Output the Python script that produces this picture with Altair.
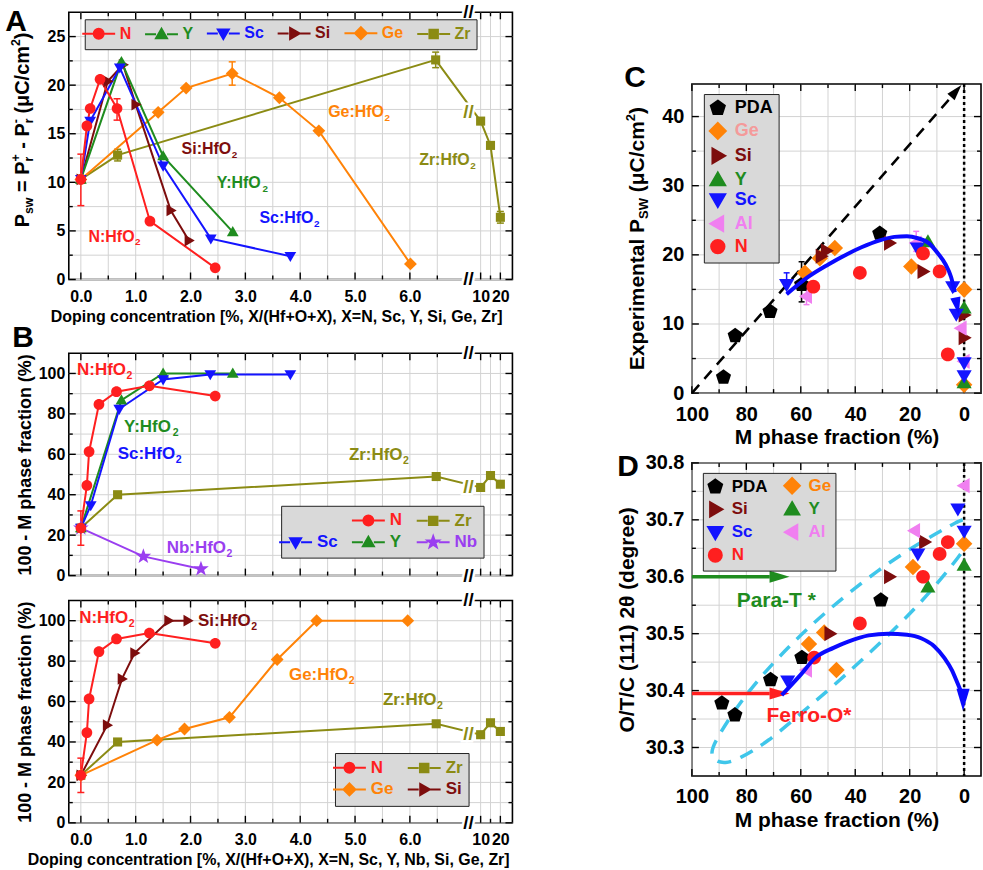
import altair as alt
import pandas as pd

FONT = "Liberation Sans"

# ---------------------------------------------------------------- colours
COL = {
    "N": "#ff1f1f", "Y": "#1f8c1f", "Sc": "#1414ff", "Si": "#7d0d0d",
    "Ge": "#ff8308", "Zr": "#8b8b14", "Nb": "#9a3ef0", "PDA": "#000000",
    "Al": "#f07ff0",
}
LABEL_COL_C = dict(COL, Ge="#f49a9a")
FIT_BLUE = "#0a0aff"
BAND_CYAN = "#3fc6ea"
GRID_GREY = "#d3d3d3"

# marker outlines in a [-1, 1] box
PATHS = {
    "circle": "M1,0A1,1,0,1,1,-1,0A1,1,0,1,1,1,0Z",
    "up": "M0,-1.1L1.1,0.8L-1.1,0.8Z",
    "down": "M0,1.1L1.1,-0.8L-1.1,-0.8Z",
    "right": "M1.1,0L-0.8,-1.1L-0.8,1.1Z",
    "left": "M-1.1,0L0.8,-1.1L0.8,1.1Z",
    "diamond": "M0,-1.2L1.2,0L0,1.2L-1.2,0Z",
    "square": "M-0.85,-0.85L0.85,-0.85L0.85,0.85L-0.85,0.85Z",
    "star": ("M0,-1.2L0.282,-0.388L1.141,-0.371L0.456,0.148L0.706,0.971L0,0.48"
             "L-0.706,0.971L-0.456,0.148L-1.141,-0.371L-0.282,-0.388Z"),
    "pentagon": "M0,-1.1L1.046,-0.34L0.647,0.89L-0.647,0.89L-1.046,-0.34Z",
}
SHAPE = {"N": "circle", "Y": "up", "Sc": "down", "Si": "right", "Ge": "diamond",
         "Zr": "square", "Nb": "star", "PDA": "pentagon", "Al": "left"}
STUBS = "M-3.3,0L-1.1,0M1.1,0L3.3,0"
NARROW_DOWN = "M-0.6,-1L0.6,-1L0,1Z"
NARROW_UP = "M-0.6,1L0.6,1L0,-1Z"
ARROW_RIGHT = "M-1,-0.6L1,0L-1,0.6Z"

# ---------------------------------------------------------------- A: P_sw vs doping
A_N_X = [0, 0.11, 0.17, 0.35, 0.66, 1.26, 2.45]
A_N_Y = [10.3, 15.8, 17.6, 20.6, 17.6, 6.0, 1.2]
A_Y_X = [0, 0.74, 1.50, 2.77]
A_Y_Y = [10.3, 22.4, 12.7, 4.9]
A_SC_X = [0, 0.17, 0.71, 1.50, 2.37, 3.82]
A_SC_Y = [10.3, 16.3, 21.8, 11.7, 4.2, 2.4]
A_SI_X = [0, 0.49, 0.77, 1.00, 1.64, 1.97]
A_SI_Y = [10.3, 20.4, 22.1, 18.0, 7.1, 4.0]
A_GE_X = [0, 1.41, 1.92, 2.76, 3.62, 4.34, 6.01]
A_GE_Y = [10.3, 17.2, 19.7, 21.2, 18.7, 15.3, 1.6]
A_ZR_X = [0, 0.67, 6.47, 10, 15, 20]
A_ZR_Y = [10.3, 12.8, 22.6, 16.3, 13.8, 6.4]
A_ERR_S = ["N", "N", "Zr", "Ge", "Zr", "Zr"]
A_ERR_X = [0, 0.66, 0.67, 2.76, 6.47, 20]
A_ERR_LO = [7.6, 16.4, 12.2, 20.0, 21.8, 5.8]
A_ERR_HI = [12.9, 18.6, 13.4, 22.4, 23.4, 7.0]
A_NOTES = [("N", 0.61, 4.4), ("Si", 2.34, 13.4), ("Y", 2.94, 9.9),
           ("Sc", 3.80, 6.3), ("Ge", 5.07, 17.2), ("Zr", 6.68, 12.3)]

# ---------------------------------------------------------------- B: non-monoclinic fraction vs doping
B_N_X = [0, 0.11, 0.15, 0.33, 0.65, 1.25, 2.45]
B_N_Y = [23.5, 44.6, 61.3, 84.7, 91.0, 93.9, 88.8]
B_Y_X = [0, 0.74, 1.50, 2.77]
B_Y_Y = [23.5, 86.8, 100, 100]
B_SC_X = [0, 0.18, 0.70, 1.50, 2.36, 3.82]
B_SC_Y = [23.5, 34.7, 82.4, 97.0, 99.5, 99.5]
B_ZR_X = [0, 0.67, 6.48, 10, 15, 20]
B_ZR_Y = [23.5, 40.0, 49.0, 43.6, 49.5, 45.2]
B_NB_X = [0, 1.14, 2.19]
B_NB_Y = [23.5, 9.5, 3.3]
B_SI_X = [0, 0.48, 0.75, 0.98, 1.60, 1.95]
B_SI_Y = [23.5, 48.3, 71.2, 84.0, 100, 100]
B_GE_X = [0, 1.39, 1.89, 2.71, 3.58, 4.30, 5.96]
B_GE_Y = [23.5, 40.9, 46.4, 52.2, 80.8, 100, 100]
B_ERR_S = ["N"]
B_ERR_X = [0]
B_ERR_LO = [15.0]
B_ERR_HI = [32.0]
B1_NOTES = [("N", 0.43, 101.6), ("Y", 1.28, 73.7), ("Sc", 1.25, 60.0),
            ("Zr", 5.43, 59.7), ("Nb", 2.16, 13.7)]
B2_NOTES = [("N", 0.47, 101.3), ("Si", 2.67, 99.7), ("Ge", 4.39, 73.2), ("Zr", 6.05, 60.8)]

# ---------------------------------------------------------------- C: P_sw vs M phase fraction
C_PDA_M = [88.4, 84.1, 71.3, 59.7, 31.0]
C_PDA_P = [2.3, 8.3, 11.8, 15.7, 23.1]
C_GE_M = [58.5, 53.0, 47.5, 19.4, 0, 0]
C_GE_P = [17.4, 19.5, 21.0, 18.3, 15.0, 1.2]
C_SI_M = [52.5, 50.6, 27.4, 15.1, 0, 0]
C_SI_P = [19.8, 20.6, 21.7, 17.6, 11.3, 8.0]
C_Y_M = [13.3, 0, 0]
C_Y_P = [21.9, 12.3, 1.5]
C_SC_M = [65.2, 17.2, 4.2, 2.9, 0, 0]
C_SC_P = [15.7, 21.0, 15.4, 11.4, 4.4, 2.5]
C_AL_M = [57.9, 17.6, 1.1, 0]
C_AL_P = [14.0, 21.7, 9.4, 4.6]
C_N_M = [55.4, 38.3, 15.1, 9.0, 6.0]
C_N_P = [15.4, 17.4, 20.2, 17.6, 5.6]
C_ERR_S = ["PDA", "Al", "Al", "Sc"]
C_ERR_M = [59.7, 57.9, 17.6, 65.2]
C_ERR_LO = [13.2, 12.8, 20.5, 15.7]
C_ERR_HI = [19.0, 15.6, 23.4, 17.4]
C_FIT_M = [65.2, 57.3, 49.9, 43.0, 37.7, 31.0, 25.6, 21.0, 17.0, 13.0, 9.6, 6.8, 4.8, 3.4]
C_FIT_P = [14.3, 16.8, 18.6, 20.1, 21.1, 22.1, 22.6, 22.7, 22.4, 21.7, 20.2, 18.6, 16.8, 14.6]
C_TIP_M = [2.6]
C_TIP_P = [12.6]
C_DIAG_M = [100, 4.8]
C_DIAG_P = [0, 42.8]
C_DIAG_TIP_M = [2.9]
C_DIAG_TIP_P = [43.7]

# ---------------------------------------------------------------- D: (111) peak position vs M phase fraction
D_PDA_M = [89.0, 84.2, 71.1, 59.6, 30.6]
D_PDA_V = [30.378, 30.357, 30.419, 30.458, 30.559]
D_GE_M = [57.0, 51.4, 46.9, 18.8, 0]
D_GE_V = [30.482, 30.502, 30.436, 30.617, 30.658]
D_SI_M = [49.3, 27.4, 14.5]
D_SI_V = [30.500, 30.600, 30.661]
D_Y_M = [13.3, 0]
D_Y_V = [30.582, 30.620]
D_SC_M = [64.8, 17.0, 2.3, 0]
D_SC_V = [30.417, 30.640, 30.719, 30.680]
D_AL_M = [57.9, 18.2, 0]
D_AL_V = [30.436, 30.681, 30.760]
D_N_M = [55.1, 38.3, 15.1, 9.0, 6.0]
D_N_V = [30.458, 30.518, 30.600, 30.640, 30.661]
D_FIT_M = [67, 60, 54.8, 48, 42.6, 35, 27.9, 21, 15.8, 11, 7.2, 4.5, 2.6, 1.3]
D_FIT_V = [30.392, 30.428, 30.457, 30.475, 30.486, 30.497, 30.500, 30.498, 30.492,
           30.478, 30.457, 30.436, 30.415, 30.400]
D_TIP_M = [0.4]
D_TIP_V = [30.384]
D_BAND_M = [0.5, 2, 12, 30.4, 57.1, 79.1, 90.9, 93.3, 91.5, 87.8, 82.9, 72, 60, 45, 20.5, 9.5, 1.1, 0]
D_BAND_V = [30.700, 30.698, 30.672, 30.618, 30.515, 30.404, 30.317, 30.290, 30.276, 30.272,
            30.279, 30.310, 30.360, 30.420, 30.530, 30.590, 30.640, 30.650]
D_ARROW_NAME = ["Para-T *", "Ferro-O*"]
D_ARROW_COL = ["#1f8c1f", "#ff1f1f"]
D_ARROW_V = [30.600, 30.395]
D_ARROW_FROM = [100, 100]
D_ARROW_TO = [71.4, 71.4]
D_ARROW_TIP = [67.8, 67.8]
D_ARROW_TEXT_M = [69.0, 57.0]
D_ARROW_TEXT_V = [30.557, 30.356]

LEGEND_A = ["N", "Y", "Sc", "Si", "Ge", "Zr"]
LEGEND_B1 = [" ", "N", "Zr", "Sc", "Y", "Nb"]
LEGEND_B2 = ["N", "Zr", "Ge", "Si"]
LEGEND_CD = ["PDA", "Ge", "Si", "Y", "Sc", "Al", "N"]

XTITLE_A = "Doping concentration [%, X/(Hf+O+X), X=N, Sc, Y, Si, Ge, Zr]"
XTITLE_B = "Doping concentration [%, X/(Hf+O+X), X=N, Sc, Y, Nb, Si, Ge, Zr]"
YTITLE_B = "100 - M phase fraction (%)"
XTITLE_CD = "M phase fraction (%)"
YTITLE_D = "O/T/C (111) 2θ (degree)"

# Arial/Liberation Sans bold advance widths (em), used to place sub/superscripts
WIDTH = {
    "A": .722, "C": .722, "D": .722, "E": .667, "G": .778, "H": .722, "M": .833, "N": .722,
    "O": .778, "P": .667, "S": .667, "W": .944, "Y": .667, "Z": .611, "a": .556, "b": .611,
    "c": .556, "e": .556, "f": .333, "i": .278, "l": .278, "m": .889, "n": .611, "o": .611,
    "p": .611, "r": .389, "s": .556, "t": .333, "w": .778, "x": .556, ":": .333, " ": .278,
    "=": .584, "+": .584, "-": .333, "(": .333, ")": .333, "/": .278, "μ": .611, "2": .556,
}


def text_width(s, size):
    return sum(WIDTH.get(ch, 0.6) for ch in s) * size


# broken doping axis: linear to 7 %, then 10-20 % squeezed behind the break
def pos(c):
    return c if c <= 7 else 7.29 + (c - 10) * 0.036


DOP_GRID = [k * 0.5 for k in range(14)] + [7.29, 7.47, 7.65]
DOP_MAJOR = [0, 1, 2, 3, 4, 5, 6, 7.29, 7.65]
DOP_MINOR = [k * 0.5 for k in range(1, 14, 2)] + [7.47]
DOP_BREAK = 7.07
DOP_LABELS = ("datum.value == 7.29 ? '10' : datum.value == 7.65 ? '20' : "
              "(datum.value <= 6 && datum.value == floor(datum.value) ? datum.label : '')")


def encoders(xsc, xax, ysc, yax):
    def X(f):
        return alt.X(f"{f}:Q", scale=xsc, axis=xax)

    def Y(f):
        return alt.Y(f"{f}:Q", scale=ysc, axis=yax)
    return X, Y


def tlayer(text, px, py, size, color="black", angle=0, align="center", baseline="middle"):
    return alt.Chart(alt.Data(values=[{}])).mark_text(
        text=text, font=FONT, fontWeight="bold", fontSize=size, color=color,
        angle=angle, align=align, baseline=baseline).encode(x=alt.value(px), y=alt.value(py))


def rotated_title(pieces, xc, yc, size):
    """Upward-reading title made of pieces (text, rel. size, shift, advances).

    Spaces are turned into gaps between pieces, since SVG drops them at text edges."""
    items = []
    for t, r, s, a in pieces:
        fs = size * r
        lead = (len(t) - len(t.lstrip(" "))) * WIDTH[" "] * fs
        trail = (len(t) - len(t.rstrip(" "))) * WIDTH[" "] * fs
        items.append((t.strip(" "), fs, s, a, lead, trail))
    total = sum(l + text_width(c, fs) + tr for c, fs, s, a, l, tr in items if a)
    y = yc + total / 2
    out = []
    for core, fs, s, a, lead, trail in items:
        out.append(tlayer(core, xc + s * size, y - lead, fs, angle=270, align="left"))
        if a:
            y -= lead + text_width(core, fs) + trail
    return out


def grid_layers(X, Y, W, H, xvals, yvals):
    vx = alt.Chart(pd.DataFrame({"g": xvals})).mark_rule(color=GRID_GREY, strokeWidth=1)
    vy = alt.Chart(pd.DataFrame({"g": yvals})).mark_rule(color=GRID_GREY, strokeWidth=1)
    return [vx.encode(x=X("g"), y=alt.value(0), y2=alt.value(H)),
            vy.encode(y=Y("g"), x=alt.value(0), x2=alt.value(W))]


def frame_ticks(X, Y, W, H, xmaj, xmin, ymaj, ymin, big=7, small=4):
    out = []
    for vals, L in ((xmaj, big), (xmin, small)):
        base = alt.Chart(pd.DataFrame({"t": vals})).mark_rule(color="black", strokeWidth=1.4)
        out.append(base.encode(x=X("t"), y=alt.value(H), y2=alt.value(H - L)))
        out.append(base.encode(x=X("t"), y=alt.value(0), y2=alt.value(L)))
    for vals, L in ((ymaj, big), (ymin, small)):
        base = alt.Chart(pd.DataFrame({"t": vals})).mark_rule(color="black", strokeWidth=1.4)
        out.append(base.encode(y=Y("t"), x=alt.value(0), x2=alt.value(L)))
        out.append(base.encode(y=Y("t"), x=alt.value(W), x2=alt.value(W - L)))
    return out


def series_layers(spec, X, Y, sizes, xmap=lambda v: v, lines=True):
    rows = []
    for name, xs, ys in spec:
        for i, (a, b) in enumerate(zip(xs, ys)):
            rows.append({"s": name, "x": xmap(a), "y": b, "i": i, "col": COL[name],
                         "shp": PATHS[SHAPE[name]], "sz": sizes.get(name, sizes["*"])})
    df = pd.DataFrame(rows)
    out = []
    if lines:
        out.append(alt.Chart(df).mark_line(strokeWidth=2).encode(
            x=X("x"), y=Y("y"), color=alt.Color("col:N", scale=None), detail="s:N", order="i:Q"))
    out.append(alt.Chart(df).mark_point(filled=True, opacity=1).encode(
        x=X("x"), y=Y("y"), color=alt.Color("col:N", scale=None),
        shape=alt.Shape("shp:N", scale=None), size=alt.Size("sz:Q", scale=None)))
    return out


def error_layers(names, xs, lo, hi, X, Y, xmap=lambda v: v, cap=7):
    df = pd.DataFrame({"x": [xmap(v) for v in xs], "lo": lo, "hi": hi,
                       "col": [COL[n] for n in names]})
    c = alt.Color("col:N", scale=None)
    tick = dict(orient="horizontal", size=cap, thickness=1.5, opacity=1)
    return [alt.Chart(df).mark_rule(strokeWidth=1.5).encode(x=X("x"), y=Y("lo"), y2=alt.Y2("hi"), color=c),
            alt.Chart(df).mark_tick(**tick).encode(x=X("x"), y=Y("lo"), color=c),
            alt.Chart(df).mark_tick(**tick).encode(x=X("x"), y=Y("hi"), color=c)]


def note_layers(notes, X, Y, size):
    out = []
    for name, xv, yv in notes:
        main = f"{name}:HfO"
        wm, ws = text_width(main, size), text_width("2", size * 0.62)
        df = pd.DataFrame({"x": [xv], "y": [yv]})
        style = dict(font=FONT, fontWeight="bold", color=COL[name], baseline="middle", align="left")
        out.append(alt.Chart(df).mark_text(text=main, fontSize=size, dx=-(wm + ws) / 2, **style)
                   .encode(x=X("x"), y=Y("y")))
        out.append(alt.Chart(df).mark_text(text="2", fontSize=size * 0.62, dx=(wm - ws) / 2 + 0.5,
                                           dy=size * 0.36, **style).encode(x=X("x"), y=Y("y")))
    return out


def break_layers(X, Y, H, line_y):
    out = []
    for yv, on_line in ((0, False), (H, False), (line_y, True)):
        df = pd.DataFrame({"x": [DOP_BREAK], "y": [yv]})
        yenc = Y("y") if on_line else alt.value(yv)
        ink = COL["Zr"] if on_line else "black"
        for halo in (True, False):
            kw = dict(stroke="white", strokeWidth=5, color="white") if halo else dict(color=ink)
            out.append(alt.Chart(df).mark_text(text="//", font=FONT, fontWeight="bold", fontSize=19,
                                               align="center", baseline="middle", **kw)
                       .encode(x=X("x"), y=yenc))
    return out


def make_legend(x, y, cols, fs, size, label_cols, offset, colpad=14, rowpad=0, pad=6):
    expr = "'black'"
    for k, v in label_cols.items():
        expr = f"datum.value === '{k}' ? '{v}' : ({expr})"
    return alt.Legend(orient="none", legendX=x, legendY=y, columns=cols, direction="horizontal",
                      title=None, labelFontSize=fs, labelFont=FONT, labelFontWeight="bold",
                      labelColor={"expr": expr}, symbolSize=size, symbolStrokeWidth=2,
                      labelOffset=offset, columnPadding=colpad, rowPadding=rowpad, padding=pad,
                      fillColor="#d9d9d9", strokeColor="#222222", cornerRadius=0)


def legend_layer(key, names, paths, colors, legend, size):
    df = pd.DataFrame({key: names})

    def sc(rng):
        return alt.Scale(domain=list(names), range=list(rng))
    return (alt.Chart(df).transform_filter("false")
            .mark_point(filled=True, opacity=1, size=size, strokeWidth=2)
            .encode(fill=alt.Fill(f"{key}:N", scale=sc(colors), legend=legend),
                    stroke=alt.Stroke(f"{key}:N", scale=sc(colors), legend=legend),
                    shape=alt.Shape(f"{key}:N", scale=sc(paths), legend=legend)))


def stub_paths(names):
    return [STUBS + PATHS[SHAPE[n]] if n in SHAPE else "M0,0" for n in names]


def name_colors(names):
    return [COL.get(n, "rgba(0,0,0,0)") for n in names]


# ---------------------------------------------------------------- panel A
def panel_a():
    W, H = 445, 268
    xsc = alt.Scale(domain=[-0.22, 7.87], nice=False, zero=False)
    ysc = alt.Scale(domain=[0, 27.5], nice=False, zero=False)
    yvals = [k * 2.5 for k in range(11)]
    xax = alt.Axis(values=DOP_GRID, labelExpr=DOP_LABELS, title=XTITLE_A, labelFontSize=16,
                   titleFontSize=16, labelPadding=9, titlePadding=4, titleX=208, grid=False)
    yax = alt.Axis(values=yvals, title=None, labelFontSize=16,
                   labelExpr="datum.value % 5 == 0 ? datum.label : ''", labelPadding=4, grid=False)
    X, Y = encoders(xsc, xax, ysc, yax)
    spec = [("Zr", A_ZR_X, A_ZR_Y), ("Ge", A_GE_X, A_GE_Y), ("Si", A_SI_X, A_SI_Y),
            ("Y", A_Y_X, A_Y_Y), ("Sc", A_SC_X, A_SC_Y), ("N", A_N_X, A_N_Y)]
    layers = grid_layers(X, Y, W, H, DOP_GRID, yvals)
    layers += frame_ticks(X, Y, W, H, DOP_MAJOR, DOP_MINOR, [0, 5, 10, 15, 20, 25],
                          [2.5, 7.5, 12.5, 17.5, 22.5])
    layers += error_layers(A_ERR_S, A_ERR_X, A_ERR_LO, A_ERR_HI, X, Y, xmap=pos)
    layers += series_layers(spec, X, Y, {"*": 115}, xmap=pos)
    layers += note_layers(A_NOTES, X, Y, 16)
    layers += break_layers(X, Y, H, 17.2)
    layers.append(tlayer("A", -53, 10, 30))
    layers += rotated_title([("P", 1, 0, True), ("sw", 0.62, 0.28, True), (" = P", 1, 0, True),
                             ("r", 0.62, 0.28, False), ("+", 0.62, -0.34, True), (" - P", 1, 0, True),
                             ("r", 0.62, 0.28, False), ("-", 0.62, -0.34, True),
                             (" (μC/cm", 1, 0, True), ("2", 0.62, -0.34, True), (")", 1, 0, True)],
                            -46, 118, 20)
    leg = make_legend(16, 7, 6, 16, 100, COL, 13, colpad=9)
    layers.append(legend_layer("ka", LEGEND_A, stub_paths(LEGEND_A), name_colors(LEGEND_A), leg, 100))
    return alt.layer(*layers).properties(width=W, height=H)


# ---------------------------------------------------------------- panels B
def panel_b(spec, notes, legend_names, legend_xy, cols, lower):
    W, H = 445, 223
    xsc = alt.Scale(domain=[-0.22, 7.87], nice=False, zero=False)
    ysc = alt.Scale(domain=[0, 110], nice=False, zero=False)
    yvals = [k * 10 for k in range(11)]
    if lower:
        xax = alt.Axis(values=DOP_GRID, labelExpr=DOP_LABELS, title=XTITLE_B, labelFontSize=16,
                       titleFontSize=16, labelPadding=9, titlePadding=4, titleX=200, grid=False)
    else:
        xax = alt.Axis(values=DOP_GRID, labels=False, title=None, grid=False)
    yax = alt.Axis(values=yvals, title=YTITLE_B, titleFontSize=18,
                   labelExpr="datum.value % 20 == 0 ? datum.label : ''", labelFontSize=16,
                   labelPadding=4, titlePadding=4, grid=False)
    X, Y = encoders(xsc, xax, ysc, yax)
    layers = grid_layers(X, Y, W, H, DOP_GRID, yvals)
    layers += frame_ticks(X, Y, W, H, DOP_MAJOR, DOP_MINOR, [0, 20, 40, 60, 80, 100],
                          [10, 30, 50, 70, 90])
    layers += error_layers(B_ERR_S, B_ERR_X, B_ERR_LO, B_ERR_HI, X, Y, xmap=pos)
    layers += series_layers(spec, X, Y, {"*": 115, "Nb": 190}, xmap=pos)
    layers += note_layers(notes, X, Y, 17)
    layers += break_layers(X, Y, H, 43.8)
    if not lower:
        layers.append(tlayer("B", -46, -15, 30))
    leg = make_legend(legend_xy[0], legend_xy[1], cols, 17, 100, COL, 13, colpad=10, rowpad=2)
    key = "kb2" if lower else "kb1"
    layers.append(legend_layer(key, legend_names, stub_paths(legend_names),
                               name_colors(legend_names), leg, 100))
    return alt.layer(*layers).properties(width=W, height=H)


# ---------------------------------------------------------------- panels C and D
M_GRID = [k * 10 for k in range(11)]


def m_axis():
    return alt.Axis(values=M_GRID, labelExpr="datum.value % 20 == 0 ? datum.label : ''",
                    title=XTITLE_CD, labelFontSize=20, titleFontSize=21, labelPadding=11,
                    titlePadding=3, grid=False)


def m_scale():
    return alt.Scale(domain=[-6.2, 100], reverse=True, nice=False, zero=False)


def curve_layer(ms, vs, X, Y, color, width, dash=None, interp="linear"):
    df = pd.DataFrame({"x": ms, "y": vs, "i": list(range(len(ms)))})
    kw = dict(strokeDash=dash) if dash else {}
    return alt.Chart(df).mark_line(color=color, strokeWidth=width, interpolate=interp, **kw).encode(
        x=X("x"), y=Y("y"), order="i:Q")


def head_layer(ms, vs, X, Y, path, size, angle, color):
    df = pd.DataFrame({"x": ms, "y": vs})
    return alt.Chart(df).mark_point(shape=path, size=size, angle=angle, filled=True,
                                    opacity=1, color=color).encode(x=X("x"), y=Y("y"))


def zero_line(X, H):
    return alt.Chart(pd.DataFrame({"x": [0]})).mark_rule(
        color="black", strokeWidth=2.5, strokeDash=[3, 3]).encode(
        x=X("x"), y=alt.value(0), y2=alt.value(H))


def cd_spec(d):
    return [(n, d[n][0], d[n][1]) for n in ("PDA", "Ge", "Si", "Y", "Al", "Sc", "N")]


def panel_c():
    W, H = 290, 310
    yvals = [k * 5 for k in range(9)]
    yax = alt.Axis(values=yvals, title=None, labelFontSize=20,
                   labelExpr="datum.value % 10 == 0 ? datum.label : ''", labelPadding=8, grid=False)
    X, Y = encoders(m_scale(), m_axis(), alt.Scale(domain=[0, 44.7], nice=False, zero=False), yax)
    layers = grid_layers(X, Y, W, H, M_GRID, yvals)
    layers += frame_ticks(X, Y, W, H, [0, 20, 40, 60, 80, 100], [10, 30, 50, 70, 90],
                          [0, 10, 20, 30, 40], [5, 15, 25, 35])
    layers.append(zero_line(X, H))
    layers.append(curve_layer(C_DIAG_M, C_DIAG_P, X, Y, "black", 2.5, dash=[11, 8]))
    layers.append(head_layer(C_DIAG_TIP_M, C_DIAG_TIP_P, X, Y, NARROW_UP, 256, 41, "black"))
    layers += error_layers(C_ERR_S, C_ERR_M, C_ERR_LO, C_ERR_HI, X, Y, cap=6)
    d = {"PDA": (C_PDA_M, C_PDA_P), "Ge": (C_GE_M, C_GE_P), "Si": (C_SI_M, C_SI_P),
         "Y": (C_Y_M, C_Y_P), "Sc": (C_SC_M, C_SC_P), "Al": (C_AL_M, C_AL_P), "N": (C_N_M, C_N_P)}
    layers += series_layers(cd_spec(d), X, Y, {"*": 190, "PDA": 210}, lines=False)
    layers.append(curve_layer(C_FIT_M, C_FIT_P, X, Y, FIT_BLUE, 4, interp="monotone"))
    layers.append(head_layer(C_TIP_M, C_TIP_P, X, Y, NARROW_DOWN, 300, 349, FIT_BLUE))
    layers.append(tlayer("C", -57, -6, 30))
    layers += rotated_title([("Experimental P", 1, 0, True), ("SW", 0.62, 0.28, True),
                             (" (μC/cm", 1, 0, True), ("2", 0.62, -0.34, True), (")", 1, 0, True)],
                            -54, 155, 21)
    leg = make_legend(12, 10, 1, 18, 180, LABEL_COL_C, 8, rowpad=0, pad=5)
    layers.append(legend_layer("kc", LEGEND_CD, [PATHS[SHAPE[n]] for n in LEGEND_CD],
                               name_colors(LEGEND_CD), leg, 180))
    return alt.layer(*layers).properties(width=W, height=H)


def panel_d():
    W, H = 290, 314
    yvals = [round(30.3 + 0.05 * k, 2) for k in range(11)]
    yax = alt.Axis(values=yvals, title=YTITLE_D, titleFontSize=21, labelFontSize=20,
                   labelExpr="round(datum.value * 100) % 10 == 0 ? format(datum.value, '.1f') : ''",
                   labelPadding=8, titleX=-55, titleBaseline="bottom", grid=False)
    X, Y = encoders(m_scale(), m_axis(), alt.Scale(domain=[30.25, 30.8], nice=False, zero=False), yax)
    layers = grid_layers(X, Y, W, H, M_GRID, yvals)
    layers += frame_ticks(X, Y, W, H, [0, 20, 40, 60, 80, 100], [10, 30, 50, 70, 90],
                          [30.3, 30.4, 30.5, 30.6, 30.7, 30.8], [30.35, 30.45, 30.55, 30.65, 30.75])
    layers.append(zero_line(X, H))
    layers.append(curve_layer(D_BAND_M, D_BAND_V, X, Y, BAND_CYAN, 3.5, dash=[14, 10], interp="basis"))
    arrows = pd.DataFrame({"a": D_ARROW_FROM, "b": D_ARROW_TO, "v": D_ARROW_V, "t": D_ARROW_TIP,
                           "col": D_ARROW_COL, "name": D_ARROW_NAME,
                           "tm": D_ARROW_TEXT_M, "tv": D_ARROW_TEXT_V})
    c = alt.Color("col:N", scale=None)
    layers.append(alt.Chart(arrows).mark_rule(strokeWidth=3.5).encode(
        x=X("a"), x2=alt.X2("b"), y=Y("v"), color=c))
    layers.append(alt.Chart(arrows).mark_point(shape=ARROW_RIGHT, size=400, filled=True, opacity=1)
                  .encode(x=X("t"), y=Y("v"), color=c))
    layers.append(alt.Chart(arrows).mark_text(font=FONT, fontWeight="bold", fontSize=21)
                  .encode(x=X("tm"), y=Y("tv"), text="name:N", color=c))
    d = {"PDA": (D_PDA_M, D_PDA_V), "Ge": (D_GE_M, D_GE_V), "Si": (D_SI_M, D_SI_V),
         "Y": (D_Y_M, D_Y_V), "Sc": (D_SC_M, D_SC_V), "Al": (D_AL_M, D_AL_V), "N": (D_N_M, D_N_V)}
    layers += series_layers(cd_spec(d), X, Y, {"*": 190, "PDA": 210}, lines=False)
    layers.append(curve_layer(D_FIT_M, D_FIT_V, X, Y, FIT_BLUE, 4, interp="monotone"))
    layers.append(head_layer(D_TIP_M, D_TIP_V, X, Y, NARROW_DOWN, 484, 0, FIT_BLUE))
    layers.append(tlayer("D", -64, 4, 30))
    leg = make_legend(11, 10, 2, 17, 170, COL, 8, colpad=12, rowpad=0, pad=4)
    layers.append(legend_layer("kd", LEGEND_CD, [PATHS[SHAPE[n]] for n in LEGEND_CD],
                               name_colors(LEGEND_CD), leg, 170))
    return alt.layer(*layers).properties(width=W, height=H)


spacer = (alt.Chart(alt.Data(values=[{}])).mark_point(opacity=0)
          .encode(x=alt.value(0), y=alt.value(0))
          .properties(width=290, height=47, view=alt.ViewBackground(stroke="transparent")))

IND = dict(fill="independent", stroke="independent", shape="independent")

b1 = panel_b([("Nb", B_NB_X, B_NB_Y), ("Zr", B_ZR_X, B_ZR_Y), ("Y", B_Y_X, B_Y_Y),
              ("Sc", B_SC_X, B_SC_Y), ("N", B_N_X, B_N_Y)],
             B1_NOTES, LEGEND_B1, (213, 153), 3, False)
b2 = panel_b([("Zr", B_ZR_X, B_ZR_Y), ("Ge", B_GE_X, B_GE_Y), ("Si", B_SI_X, B_SI_Y),
              ("N", B_N_X, B_N_Y)],
             B2_NOTES, LEGEND_B2, (267, 153), 2, True)

lower_left = alt.vconcat(b1, b2, spacing=4).resolve_scale(**IND).resolve_legend(**IND)
left = alt.vconcat(panel_a(), lower_left, spacing=-3).resolve_scale(**IND).resolve_legend(**IND)
right = alt.vconcat(spacer, panel_c(), panel_d(), spacing=2).resolve_scale(**IND).resolve_legend(**IND)

chart = (alt.hconcat(left, right, spacing=101)
         .resolve_scale(**IND).resolve_legend(**IND)
         .properties(padding={"left": 4, "top": 1, "right": 0, "bottom": 0})
         .configure_view(stroke="black", strokeWidth=1.6)
         .configure_axis(labelFont=FONT, titleFont=FONT, labelFontWeight="bold",
                         titleFontWeight="bold", labelColor="black", titleColor="black",
                         domain=False, ticks=False, tickSize=0, grid=False,
                         labelOverlap=False, labelFlush=False)
         .configure_legend(labelFont=FONT, labelFontWeight="bold"))

chart.save("out.html", embed_options={"renderer": "svg", "actions": False})
